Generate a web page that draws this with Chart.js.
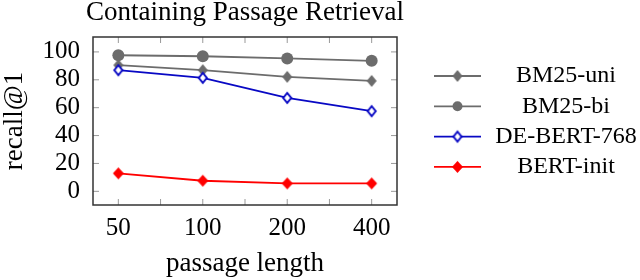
<!DOCTYPE html>
<html><head><meta charset="utf-8">
<script src="https://cdn.jsdelivr.net/npm/chart.js@4/dist/chart.umd.min.js"></script>
<style>html,body{margin:0;padding:0;background:#fff}#wrap{width:640px;height:280px;position:relative}</style>
</head><body><div id="wrap"><canvas id="c" width="640" height="280"></canvas></div>
<script>
// ---- data ----
const passageLengths = [50, 100, 200, 400];
const seriesNames = ['BM25-uni', 'BM25-bi', 'DE-BERT-768', 'BERT-init'];
const bm25Uni = [90.5, 86.9, 82.1, 79.2];
const bm25Bi = [97.6, 96.9, 95.3, 93.6];
const deBert768 = [86.9, 81.4, 67.0, 57.5];
const bertInit = [12.9, 7.6, 5.7, 5.7];
const yTickValues = [0, 20, 40, 60, 80, 100];
const xTickValues = [50, 100, 200, 400];
const chartTitle = 'Containing Passage Retrieval';
const xTitle = 'passage length';
const yTitle = 'recall@1';

// ---- styles ----
const FONT = "'Liberation Serif', 'Times New Roman', serif";
const GRAY = '#6c6c6c', BLUE = '#0808c4', RED = '#ff0000';

function diamond(w, h, fill, stroke, lw) {
  const pad = Math.ceil(lw || 0) + 1;
  const c = document.createElement('canvas');
  c.width = w + 2 * pad; c.height = h + 2 * pad;
  const x = c.getContext('2d');
  x.beginPath();
  x.moveTo(c.width / 2, pad); x.lineTo(c.width - pad, c.height / 2);
  x.lineTo(c.width / 2, c.height - pad); x.lineTo(pad, c.height / 2); x.closePath();
  x.fillStyle = fill; x.fill();
  if (stroke) { x.lineWidth = lw; x.strokeStyle = stroke; x.stroke(); }
  return c;
}
const dGray = diamond(10, 12, GRAY);
const dBlue = diamond(8, 10, '#ffffff', BLUE, 2);
const dRed = diamond(11, 12, RED);

const pts = vals => passageLengths.map((x, i) => ({x: x, y: vals[i]}));

const datasets = [
  {label: seriesNames[0], data: pts(bm25Uni), borderColor: GRAY, backgroundColor: GRAY, pointStyle: dGray, order: 4},
  {label: seriesNames[1], data: pts(bm25Bi), borderColor: GRAY, backgroundColor: GRAY, pointStyle: 'circle', pointRadius: 6, pointBorderWidth: 0, order: 3},
  {label: seriesNames[2], data: pts(deBert768), borderColor: BLUE, backgroundColor: '#fff', pointStyle: dBlue, order: 2},
  {label: seriesNames[3], data: pts(bertInit), borderColor: RED, backgroundColor: RED, pointStyle: dRed, order: 1}
].map(d => Object.assign({borderWidth: 1.8, tension: 0, fill: false}, d));

const framePlugin = {
  id: 'frame',
  beforeDatasetsDraw(chart) {
    const {ctx, chartArea: a, scales} = chart;
    ctx.save();
    ctx.strokeStyle = '#999'; ctx.lineWidth = 1;
    const tl = 6;
    ctx.beginPath();
    const xs = xTickValues.map(v => scales.x.getPixelForValue(v));
    const all = [];
    xs.forEach((p, i) => { all.push(p); if (i < xs.length - 1) all.push((p + xs[i + 1]) / 2); });
    all.forEach(p => { ctx.moveTo(p, a.bottom); ctx.lineTo(p, a.bottom - tl); ctx.moveTo(p, a.top); ctx.lineTo(p, a.top + tl); });
    yTickValues.forEach(v => { const p = scales.y.getPixelForValue(v); ctx.moveTo(a.left, p); ctx.lineTo(a.left + tl, p); ctx.moveTo(a.right, p); ctx.lineTo(a.right - tl, p); });
    ctx.stroke();
    ctx.strokeStyle = '#333'; ctx.lineWidth = 1.5;
    ctx.strokeRect(a.left, a.top, a.right - a.left, a.bottom - a.top);
    ctx.restore();
  },
  afterDraw(chart) {
    const ctx = chart.ctx, a = chart.chartArea;
    ctx.save();
    // title centred over the plot box
    ctx.fillStyle = '#000'; ctx.font = '27px ' + FONT; ctx.textAlign = 'center'; ctx.textBaseline = 'middle';
    ctx.fillText(chartTitle, (a.left + a.right) / 2, 13);
    // legend
    const x0 = 434, x1 = 481, xm = 457.5, xt = 566, y0 = 76, dy = 30.3;
    chart.data.datasets.forEach((d, i) => {
      const y = y0 + i * dy;
      ctx.strokeStyle = d.borderColor; ctx.lineWidth = 1.8;
      ctx.beginPath(); ctx.moveTo(x0, y); ctx.lineTo(x1, y); ctx.stroke();
      if (d.pointStyle === 'circle') {
        ctx.fillStyle = d.backgroundColor; ctx.beginPath(); ctx.arc(xm, y, 5, 0, Math.PI * 2); ctx.fill();
      } else {
        const im = d.pointStyle; ctx.drawImage(im, xm - im.width / 2, y - im.height / 2);
      }
      ctx.fillStyle = '#000'; ctx.font = '24px ' + FONT; ctx.textAlign = 'center'; ctx.textBaseline = 'middle';
      ctx.fillText(d.label, xt, y);
    });
    ctx.restore();
  }
};

new Chart(document.getElementById('c'), {
  type: 'line',
  data: {datasets},
  options: {
    responsive: false, animation: false, devicePixelRatio: 1,
    layout: {padding: {left: 0, right: 243, top: 37, bottom: 0}},
    plugins: {
      legend: {display: false}, tooltip: {enabled: false}, title: {display: false}
    },
    scales: {
      x: {
        type: 'logarithmic', min: 50 / Math.pow(2, 0.3), max: 400 * Math.pow(2, 0.3),
        afterBuildTicks: s => { s.ticks = xTickValues.map(v => ({value: v})); },
        afterFit: s => { s.height = 75; },
        grid: {display: false, drawTicks: false}, border: {display: false},
        ticks: {color: '#000', font: {family: FONT, size: 25}, padding: 8, maxRotation: 0, autoSkip: false, callback: v => String(v)},
        title: {display: true, text: xTitle, color: '#000', font: {family: FONT, size: 27, lineHeight: 1}, padding: {top: 0, bottom: 3}}
      },
      y: {
        type: 'linear', min: -9.8, max: 110.7,
        afterBuildTicks: s => { s.ticks = yTickValues.map(v => ({value: v})); },
        afterFit: s => { s.width = 93; },
        grid: {display: false, drawTicks: false}, border: {display: false},
        ticks: {color: '#000', font: {family: FONT, size: 25}, padding: 13, callback: v => String(v)},
        title: {display: true, text: yTitle, color: '#000', font: {family: FONT, size: 27, lineHeight: 1}, padding: {top: 1, bottom: 0}}
      }
    }
  },
  plugins: [framePlugin]
});
</script></body></html>
